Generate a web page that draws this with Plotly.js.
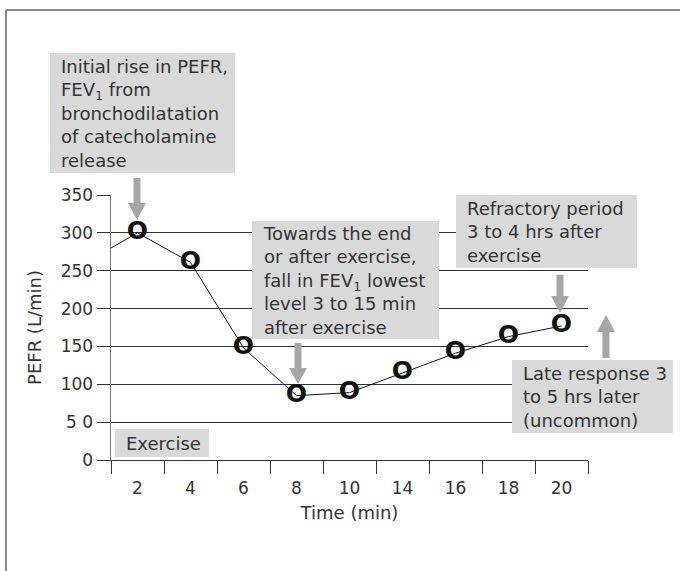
<!DOCTYPE html>
<html>
<head>
<meta charset="utf-8">
<script src="https://cdn.plot.ly/plotly-3.0.1.min.js"></script>
<style>html,body{margin:0;padding:0;background:#fff;}#chart{width:680px;height:571px;}</style>
</head>
<body>
<div id="chart"></div>
<script>
// ---- data ----
const timeLabels = ['2', '4', '6', '8', '10', '14', '16', '18', '20'];
const pefr = [300, 261, 148, 85, 89, 115, 141, 163, 177];
const startPefr = 280;            // value where the curve enters at the y axis
const yTickVals = [0, 50, 100, 150, 200, 250, 300, 350];
const yTickText = ['0', '5 0', '100', '150', '200', '250', '300', '350'];
const noteTexts = [
  'Initial rise in PEFR,<br>FEV<sub>1</sub> from<br>bronchodilatation<br>of catecholamine<br>release',
  'Towards the end<br>or after exercise,<br>fall in FEV<sub>1</sub> lowest<br>level 3 to 15 min<br>after exercise',
  'Refractory period<br>3 to 4 hrs after<br>exercise',
  'Late response 3<br>to 5 hrs later<br>(uncommon)',
  'Exercise'
];

// ---- layout geometry (pixels) ----
const W = 680, H = 571, L = 111, R = 588, T = 195, B = 460;
const px = p => (p - L) / (R - L);
const py = p => (B - p) / (B - T);

const noteBoxes = [
  [50, 53, 235, 173],
  [252, 221, 439, 339],
  [456, 195, 637, 268],
  [512, 360, 673, 433],
  [115, 429, 209, 457]
];
const arrows = [ // cx, tail, headBase, tip
  [137, 178, 203, 220],
  [298, 343, 368, 384],
  [560, 275, 296, 313],
  [606, 358, 332, 315]
];

const idx = timeLabels.map((_, i) => i);

const textColor = '#333333';
const font = 'DejaVu Sans, Liberation Sans, sans-serif';

const traces = [
  { // lead-in segment from the y axis to the first reading
    x: [-0.5, idx[0]], y: [startPefr, pefr[0]],
    type: 'scatter', mode: 'lines',
    line: {color: '#111', width: 1},
    hoverinfo: 'skip', showlegend: false
  },
  {
    x: idx, y: pefr, text: pefr.map(() => 'O'),
    type: 'scatter', mode: 'lines+text',
    line: {color: '#111', width: 1},
    textposition: 'middle center',
    textfont: {family: 'DejaVu Sans, Liberation Sans, sans-serif', size: 25, color: '#111', weight: 'bold'},
    cliponaxis: false,
    hoverinfo: 'skip', showlegend: false
  }
];

const shapes = [];
noteBoxes.forEach(b => {
  shapes.push({type: 'rect', xref: 'paper', yref: 'paper', layer: 'above',
    x0: px(b[0]), x1: px(b[2]), y0: py(b[3]), y1: py(b[1]),
    fillcolor: '#d9d9d9', line: {width: 0}});
});
arrows.forEach(a => {
  const [cx, tail, hb, tip] = a;
  const sw = 3.5, hw = 9;
  const pts = [[cx - sw, tail], [cx + sw, tail], [cx + sw, hb], [cx + hw, hb], [cx, tip], [cx - hw, hb], [cx - sw, hb]];
  const path = 'M' + pts.map(p => px(p[0]).toFixed(5) + ',' + py(p[1]).toFixed(5)).join(' L') + ' Z';
  shapes.push({type: 'path', xref: 'paper', yref: 'paper', layer: 'above', path: path,
    fillcolor: '#a6a6a6', line: {width: 0}});
});
// outer frame (top and left edges)
shapes.push({type: 'line', xref: 'paper', yref: 'paper', layer: 'above', x0: px(6), x1: px(680), y0: py(10), y1: py(10), line: {color: '#8a8a8a', width: 2}});
shapes.push({type: 'line', xref: 'paper', yref: 'paper', layer: 'above', x0: px(6), x1: px(6), y0: py(10), y1: py(571), line: {color: '#8a8a8a', width: 2}});

const annotations = noteBoxes.map((b, i) => ({
  xref: 'paper', yref: 'paper',
  x: px(b[0] + 9), y: py((b[1] + b[3]) / 2),
  xanchor: 'left', yanchor: 'middle', align: 'left',
  text: noteTexts[i], showarrow: false,
  font: {family: font, size: 18, color: textColor}
}));

const layout = {
  width: W, height: H,
  margin: {l: L, r: W - R, t: T, b: H - B, pad: 0},
  paper_bgcolor: '#fff', plot_bgcolor: '#fff',
  font: {family: font, color: textColor},
  xaxis: {
    range: [-0.5, 8.5], tickmode: 'array', tickvals: idx, ticktext: timeLabels,
    ticks: 'outside', ticklen: 13, tickcolor: 'rgba(0,0,0,0)',
    minor: {tickmode: 'linear', tick0: -0.5, dtick: 1, ticks: 'outside', ticklen: 13, tickcolor: '#333', tickwidth: 1, showgrid: false},
    showgrid: false, zeroline: false, showline: true, linecolor: '#333', linewidth: 1,
    tickfont: {family: font, size: 17, color: textColor},
    title: {text: 'Time (min)', font: {family: font, size: 18, color: textColor}, standoff: 8},
    fixedrange: true
  },
  yaxis: {
    range: [0, 350], tickmode: 'array', tickvals: yTickVals, ticktext: yTickText,
    ticks: 'outside', ticklen: 13, tickcolor: '#333', tickwidth: 1,
    showgrid: true, gridcolor: '#333', gridwidth: 1, zeroline: false,
    showline: true, linecolor: '#777', linewidth: 1.5,
    tickfont: {family: font, size: 17, color: textColor},
    title: {text: 'PEFR (L/min)', font: {family: font, size: 18, color: textColor}, standoff: 14},
    fixedrange: true
  },
  shapes: shapes,
  annotations: annotations,
  showlegend: false
};

Plotly.newPlot('chart', traces, layout, {displayModeBar: false, staticPlot: true});
</script>
</body>
</html>
